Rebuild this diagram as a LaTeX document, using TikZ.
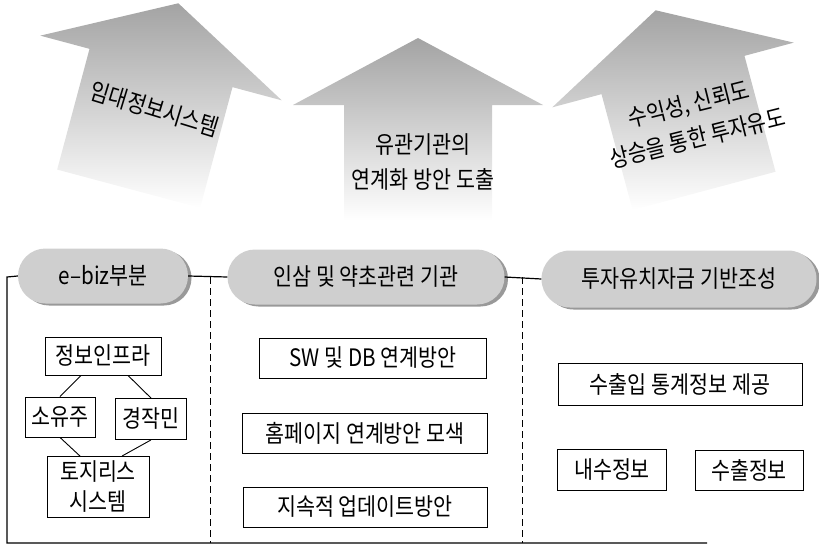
\documentclass[tikz,border=0pt]{standalone}
\usepackage{fontspec}
\setmainfont{Noto Sans CJK KR}[FakeStretch=0.86]
\usetikzlibrary{shapes.misc,shadows}

\tikzset{
  kbox/.style={draw, line width=0.9pt, fill=white, inner sep=1pt, align=center,
    font=\fontsize{24}{30}\selectfont},
  pill/.style={rounded rectangle, fill=gray!38, inner sep=0pt,
    font=\fontsize{24}{30}\selectfont,
    drop shadow={shadow xshift=3.5pt, shadow yshift=-2pt, fill=gray!80, opacity=1}},
  arrowtxt/.style={align=center, font=\fontsize{24}{35}\selectfont},
  upshade/.style={top color=gray!72, bottom color=white},
  frameline/.style={line width=1.2pt},
  divider/.style={line width=1pt, dash pattern=on 7pt off 4pt},
  link/.style={line width=0.9pt}
}

\begin{document}
\begin{tikzpicture}[x=1pt, y=-1pt]
\useasboundingbox (0,0) rectangle (819,551);

% big arrows
\begin{scope}[shift={(161,68)}, rotate=-15]
\shade[upshade] (0,-67) -- (125,0) -- (74,0) -- (74,125) -- (-74,125) -- (-74,0) -- (-125,0) -- cycle;
\end{scope}
\begin{scope}[shift={(418,105)}]
\shade[upshade] (0,-67) -- (125,0) -- (74,0) -- (74,115) -- (-74,115) -- (-74,0) -- (-125,0) -- cycle;
\end{scope}
\begin{scope}[shift={(673,75)}, rotate=15]
\shade[upshade] (0,-67) -- (125,0) -- (74,0) -- (74,120) -- (-74,120) -- (-74,0) -- (-125,0) -- cycle;
\end{scope}
\node[arrowtxt, rotate=-17] (rent) at (155,109) {임대정보시스템};
\node[arrowtxt] (relate) at (423,162) {유관기관의\\연계화 방안 도출};
\node[arrowtxt, rotate=14] (invest) at (693,121) {수익성, 신뢰도\\상승을 통한 투자유도};

% frame
\coordinate (tl) at (7,277);
\coordinate (bl) at (7,543);
\coordinate (br) at (707,543);
\coordinate (d1) at (210,277);
\coordinate (d1b) at (210,543);
\coordinate (d2) at (522,277);
\coordinate (d2b) at (522,543);
\draw[divider] (d1) -- (d1b);
\draw[divider] (d2) -- (d2b);

% headers
\node[pill, minimum width=170, minimum height=55] (ebiz) at (103,276) {e–biz부분};
\node[pill, minimum width=277, minimum height=55] (ginseng) at (366,277) {인삼 및 약초관련 기관};
\node[pill, minimum width=275, minimum height=57] (fund) at (679,279) {투자유치자금 기반조성};
\draw[frameline] (ebiz.west) -- (tl) -- (bl) -- (br);
\draw[frameline] (ebiz.east) -- (ginseng.west);
\draw[frameline] (ginseng.east) -- (fund.west);

% e-biz column
\node[kbox, minimum width=116, minimum height=38] (infra) at (103,356) {정보인프라};
\node[kbox, minimum width=70, minimum height=40] (owner) at (60,417) {소유주};
\node[kbox, minimum width=71, minimum height=41] (farmer) at (151,419) {경작민};
\node[kbox, minimum width=102, minimum height=61] (lease) at (98,487) {토지리스\\시스템};
\draw[link] ([xshift=-22pt]infra.south) -- (owner.north);
\draw[link] ([xshift=25pt]infra.south) -- (farmer.north);
\draw[link] (owner.south) -- ([xshift=-18pt]lease.north);
\draw[link] (farmer.south) -- ([xshift=24pt]lease.north);

% ginseng column
\node[kbox, minimum width=227, minimum height=40] (swdb) at (373,358) {SW 및 DB 연계방안};
\node[kbox, minimum width=245, minimum height=40] (homepage) at (365,433) {홈페이지 연계방안 모색};
\node[kbox, minimum width=244, minimum height=40] (update) at (365,507) {지속적 업데이트방안};

% fund column
\node[kbox, minimum width=244, minimum height=42] (stats) at (680,384) {수출입 통계정보 제공};
\node[kbox, minimum width=109, minimum height=41] (domestic) at (612,470) {내수정보};
\node[kbox, minimum width=108, minimum height=40] (export) at (749,470) {수출정보};
\end{tikzpicture}
\end{document}
